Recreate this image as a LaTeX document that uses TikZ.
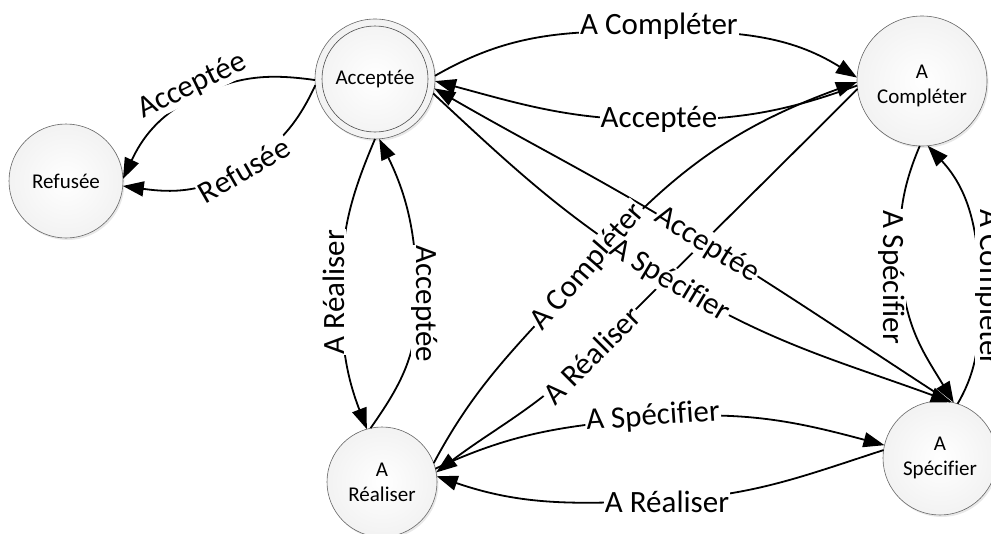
\documentclass[tikz,border=0pt]{standalone}
\usepackage{fontspec}
\setmainfont{Carlito}[Ligatures=NoCommon]
\usetikzlibrary{arrows.meta,shadows}
\begin{document}
\begin{tikzpicture}[x=1pt,y=-1pt,
  stnode/.style={circle, draw=black!60, line width=0.6pt, inner sep=0pt, outer sep=0pt,
    inner color=white, outer color=black!5, align=center,
    font=\fontsize{21}{25}\selectfont,
    drop shadow={opacity=0.18, shadow xshift=1.5pt, shadow yshift=-2pt}},
  conn/.style={line width=1.8pt, black},
  arr/.style={conn, -{Triangle[length=21pt,width=15pt]}},
  elabel/.style={fill=white, inner sep=1pt, font=\fontsize{31}{36}\selectfont}
]
\useasboundingbox (0,0) rectangle (991,533);

% states
\node[stnode, minimum size=114pt] (ref)  at (66,181)  {Refusée};
\node[stnode, minimum size=120pt] (acc)  at (375,79)  {Acceptée};
\draw[black!70, line width=0.6pt] (acc.center) circle[radius=53pt];
\node[stnode, minimum size=130pt] (comp) at (922,81)
  {\raisebox{-5pt}[\height][\depth]{\begin{tabular}{@{}c@{}}A\\Compléter\end{tabular}}};
\node[stnode, minimum size=110pt] (real) at (382,482) {A\\Réaliser};
\node[stnode, minimum size=114pt] (spec) at (940,458) {A\\Spécifier};

% pass points of the connectors
\coordinate (p1)  at (197,96);
\coordinate (p2)  at (243,168);
\coordinate (p3)  at (659,31);
\coordinate (p4)  at (659,120);
\coordinate (p5)  at (341,292);
\coordinate (p6)  at (417,304);
\coordinate (p7)  at (588,267);
\coordinate (p8)  at (591,354);
\coordinate (p9)  at (653,418);
\coordinate (p10) at (667,500);
\coordinate (p11) at (708,245);
\coordinate (p12) at (662,277);
\coordinate (p13) at (902,278);
\coordinate (p14) at (979,288);

% connectors
\draw[arr] (acc.181) to[out=172,in=26] (p1) to[out=206,in=65] (ref.2);
\draw[arr] (acc.186) to[out=245,in=33] (p2) to[out=213,in=-8] (ref.-5);
\draw[arr] (acc.3) to[out=30,in=180] (p3) to[out=0,in=148] (comp.177);
\draw[arr] (comp.184) to[out=200,in=0] (p4) to[out=180,in=-15] (acc.-2);
\draw[arr] (acc.-90) to[out=247,in=90] (p5) to[out=270,in=111] (real.106);
\draw[arr] (real.102) to[out=55,in=270] (p6) to[out=90,in=-64] (acc.-86);
\draw[arr] (real.20) to[out=62,in=229] (p7) to[out=49,in=200] (comp.181);
\draw[arr] (comp.187) to[out=225,in=45] (p8) to[out=225,in=37] (real.10);
\draw[arr] (real.14) to[out=25,in=185] (p9) to[out=5,in=165] (spec.167);
\draw[arr] (spec.172) to[out=198,in=3] (p10) to[out=183,in=-19] (real.6);
\draw[arr] (spec.80) to[out=147,in=-32] (p11) to[out=148,in=-30] (acc.-9);
\draw[arr] (acc.-14) to[out=-43,in=148] (p12) to[out=-32,in=160] (spec.78);
\draw[arr] (comp.-92) to[out=247,in=95] (p13) to[out=275,in=121] (spec.76);
\draw[arr] (spec.72) to[out=60,in=270] (p14) to[out=90,in=-47] (comp.-85);

% labels
\node[elabel, rotate=26]  (l1)  at (192,86)  {Acceptée};
\node[elabel, rotate=30]  (l2)  at (244,170) {Refusée};
\node[elabel]             (l3)  at (659,26)  {A Compléter};
\node[elabel]             (l4)  at (659,119) {Acceptée};
\node[elabel, rotate=90]  (l5)  at (334,292) {A Réaliser};
\node[elabel, rotate=-90] (l6)  at (425,304) {Acceptée};
\node[elabel, rotate=49]  (l7)  at (588,267) {A Compléter};
\node[elabel, rotate=-31] (l12) at (670,281) {A Spécifier};
\node[elabel, rotate=-32] (l11) at (707,245) {Acceptée};
\node[elabel, rotate=45]  (l8)  at (592,355) {A Réaliser};
\node[elabel, rotate=4]   (l9)  at (653,417) {A Spécifier};
\node[elabel]             (l10) at (667,502) {A Réaliser};
\node[elabel, rotate=-90] (l13) at (892,277) {A Spécifier};
\node[elabel, rotate=-90] (l14) at (989,288) {A Compléter};
\end{tikzpicture}
\end{document}
